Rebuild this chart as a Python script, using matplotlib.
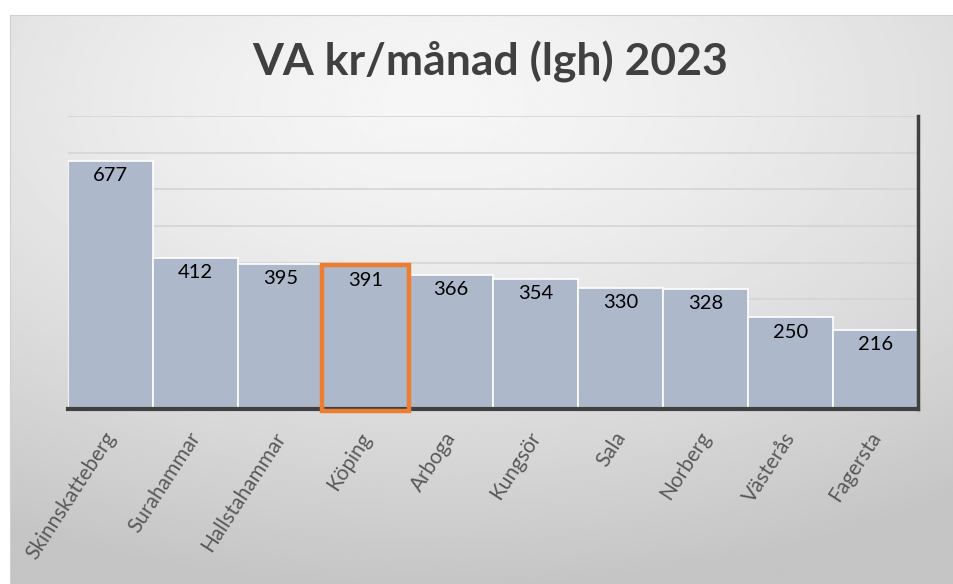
import matplotlib
matplotlib.use("Agg")
import matplotlib.pyplot as plt
import matplotlib.transforms as mtransforms
import numpy as np

plt.rcParams['font.family'] = ['Lato', 'DejaVu Sans']

kommuner = ["Skinnskatteberg", "Surahammar", "Hallstahammar", "Köping", "Arboga",
            "Kungsör", "Sala", "Norberg", "Västerås", "Fagersta"]
kostnad = [677, 412, 395, 391, 366, 354, 330, 328, 250, 216]
markerad = "Köping"

W, H = 954, 584
fig = plt.figure(figsize=(W / 100, H / 100), dpi=100)
fig.patch.set_facecolor("white")

# chart area background with soft radial gradient
bg = fig.add_axes([10 / W, 0, 1 - 10 / W, (H - 15) / H])
yy, xx = np.mgrid[0:1:300j, 0:1:500j]
d = np.sqrt(((xx - 0.45) * 1.0) ** 2 + ((yy - 0.15) * 1.1) ** 2)
d = np.clip(d / 0.95, 0, 1)
light, dark = 0.965, 0.77
img = light - (light - dark) * d ** 1.4
bg.imshow(img, cmap="gray", vmin=0, vmax=1, aspect="auto", extent=[0, 1, 1, 0])
bg.set_xticks([])
bg.set_yticks([])
for side in ["right", "bottom"]:
    bg.spines[side].set_visible(False)
for side in ["top", "left"]:
    bg.spines[side].set_color("#d0d0d0")
bg.set_zorder(-1)

ax = fig.add_axes([68 / W, (H - 409) / H, (918 - 68) / W, (409 - 116) / H])
ax.patch.set_alpha(0)
x = np.arange(len(kommuner))
bars = ax.bar(x, kostnad, width=1.0, color="#adb9ca", edgecolor="white", linewidth=1.2, zorder=2)

i = kommuner.index(markerad)
ax.bar(x[i], kostnad[i] + 8, width=1.02, bottom=-6, fill=False, edgecolor="#ed7d31",
       linewidth=3.2, zorder=4, clip_on=False)

for xi, v in zip(x, kostnad):
    ax.annotate(str(v), (xi, v), xytext=(0, -10.5), textcoords="offset points",
                ha="center", va="center", fontsize=14.5, color="black", zorder=5)

ax.set_xlim(-0.5, len(kommuner) - 0.5)
ax.set_ylim(0, 800)
ax.set_yticks(np.arange(0, 801, 100))
ax.set_yticklabels([])
ax.yaxis.grid(True, color="#d4d4d4", linewidth=1.2)
ax.set_axisbelow(True)
ax.tick_params(axis="both", length=0, pad=0)

ax.spines["left"].set_visible(False)
ax.spines["top"].set_visible(False)
ax.spines["bottom"].set_color("#404040")
ax.spines["bottom"].set_linewidth(3)
ax.spines["bottom"].set_zorder(3)
ax.spines["right"].set_color("#404040")
ax.spines["right"].set_linewidth(2.5)

ax.set_xticks(x)
ax.set_xticklabels(kommuner, rotation=57, ha="right", va="center",
                   rotation_mode="anchor", fontsize=15, color="#595959")
offset = mtransforms.ScaledTranslation(1 / 100, -25 / 100, fig.dpi_scale_trans)
for lab in ax.get_xticklabels():
    lab.set_transform(lab.get_transform() + offset)

fig.text(490 / W, 1 - 62 / H, "VA kr/månad (lgh) 2023", ha="center", va="center",
         fontsize=32, fontweight="bold", color="#404040")

fig.savefig("out.png", dpi=100)
